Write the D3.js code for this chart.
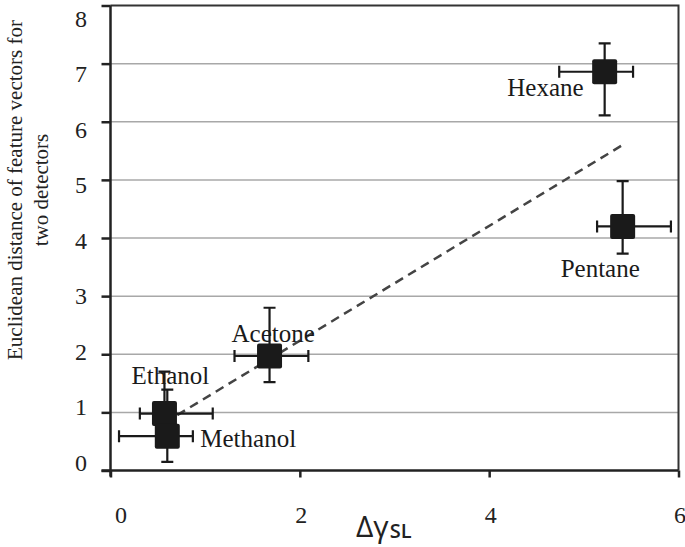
<!DOCTYPE html>
<html>
<head>
<meta charset="utf-8">
<script src="https://cdn.jsdelivr.net/npm/d3@7"></script>
<style>
  html, body { margin: 0; padding: 0; background: #fff; }
  svg { display: block; }
  .serif, .serif text { font-family: "Liberation Serif", "Times New Roman", "DejaVu Serif", serif; }
  .sans { font-family: "Open Sans", "DejaVu Sans", sans-serif; }
</style>
</head>
<body>
<svg id="chart" width="685" height="547"></svg>
<script>
// ---- data ----
const solvents = ["Hexane", "Pentane", "Acetone", "Ethanol", "Methanol"];
const deltaGamma = [5.22, 5.41, 1.68, 0.57, 0.60];       // x values
const distance   = [6.86, 4.20, 1.97, 0.98, 0.59];       // y values
const xLow  = [4.74, 5.14, 1.31, 0.31, 0.09];
const xHigh = [5.52, 5.92, 2.09, 1.08, 0.87];
const yLow  = [6.11, 3.73, 1.52, 0.60, 0.15];
const yHigh = [7.35, 4.98, 2.80, 1.70, 1.39];
const xTicks = [0, 2, 4, 6];
const yTicks = [0, 1, 2, 3, 4, 5, 6, 7, 8];
const yTitleLines = ["Euclidean distance of feature vectors for", "two detectors"];

// ---- label placement (style) ----
const labelStyle = {
  Hexane:   { dx: -21, dy: 24, anchor: "end" },
  Pentane:  { dx: -62, dy: 51, anchor: "start" },
  Acetone:  { dx: -38, dy: -14, anchor: "start" },
  Ethanol:  { dx: -33, dy: -30, anchor: "start" },
  Methanol: { dx: 33,  dy: 11, anchor: "start" }
};

const svg = d3.select("#chart");
const x = d3.scaleLinear().domain([0, 6]).range([110.5, 678.5]);
const y = d3.scaleLinear().domain([0, 8]).range([470.5, 5.5]);
const yLabel = d3.scaleLinear().domain([0, 8]).range([462, 18]);

// gridlines
svg.append("g").selectAll("line").data(yTicks.filter(t => t > 0 && t < 8)).join("line")
  .attr("x1", x(0)).attr("x2", x(6))
  .attr("y1", d => y(d)).attr("y2", d => y(d))
  .attr("stroke", "#a8a8a8").attr("stroke-width", 1.5);

// frame top & right
svg.append("path")
  .attr("d", `M${x(0)},${y(8)}H${x(6)}V${y(0)}`)
  .attr("fill", "none").attr("stroke", "#333").attr("stroke-width", 2);

// trend line (least-squares fit)
const n = deltaGamma.length;
const mx = d3.mean(deltaGamma), my = d3.mean(distance);
let sxy = 0, sxx = 0;
for (let i = 0; i < n; i++) { sxy += (deltaGamma[i]-mx)*(distance[i]-my); sxx += (deltaGamma[i]-mx)**2; }
const slope = sxy / sxx, icpt = my - slope * mx;
const [xmin, xmax] = d3.extent(deltaGamma);
svg.append("line")
  .attr("x1", x(xmin)).attr("y1", y(icpt + slope * xmin))
  .attr("x2", x(xmax)).attr("y2", y(icpt + slope * xmax))
  .attr("stroke", "#444").attr("stroke-width", 2.5)
  .attr("stroke-dasharray", "9,6");

// axes
const yAxis = svg.append("g").attr("transform", `translate(${x(0)},0)`)
  .call(d3.axisLeft(y).tickValues(yTicks).tickSize(9).tickFormat(d3.format("d")));
const xAxis = svg.append("g").attr("transform", `translate(0,${y(0)})`)
  .call(d3.axisBottom(x).tickValues(xTicks).tickSize(7).tickFormat(d3.format("d")));
[yAxis, xAxis].forEach(g => {
  g.attr("font-family", null).attr("class", "serif");
  g.select(".domain").attr("stroke", "#222").attr("stroke-width", 2.5);
  g.selectAll(".tick line").attr("stroke", "#222").attr("stroke-width", 2.5);
  g.selectAll("text").attr("font-size", 24).attr("fill", "#222");
});
yAxis.select(".domain").attr("d", `M0,${y(8)}V${y(0) + 6}`);
xAxis.select(".domain").attr("d", `M${x(0) - 9},0H${x(6)}`);
yAxis.selectAll(".tick text")
  .attr("x", -23.5).attr("dy", null)
  .attr("y", d => yLabel(d) - y(d)).attr("dominant-baseline", "central");
xAxis.selectAll(".tick text")
  .attr("y", 52).attr("dy", null)
  .attr("x", d => d === 0 ? 10 : 1);

// error bars
const cap = 6;
const eb = svg.append("g").attr("stroke", "#1a1a1a").attr("stroke-width", 2.2).attr("fill", "none");
solvents.forEach((s, i) => {
  const cx = x(deltaGamma[i]), cy = y(distance[i]);
  eb.append("path").attr("d",
    `M${x(xLow[i])},${cy}H${x(xHigh[i])}` +
    `M${x(xLow[i])},${cy - cap}V${cy + cap}M${x(xHigh[i])},${cy - cap}V${cy + cap}` +
    `M${cx},${y(yLow[i])}V${y(yHigh[i])}` +
    `M${cx - cap},${y(yLow[i])}H${cx + cap}M${cx - cap},${y(yHigh[i])}H${cx + cap}`);
});

// markers
const size = 25;
svg.append("g").selectAll("rect").data(solvents).join("rect")
  .attr("x", (d, i) => x(deltaGamma[i]) - size / 2)
  .attr("y", (d, i) => y(distance[i]) - size / 2)
  .attr("width", size).attr("height", size).attr("rx", 2)
  .attr("fill", "#1a1a1a");

// point labels
svg.append("g").attr("class", "serif").selectAll("text").data(solvents).join("text")
  .attr("x", (d, i) => x(deltaGamma[i]) + labelStyle[d].dx)
  .attr("y", (d, i) => y(distance[i]) + labelStyle[d].dy)
  .attr("text-anchor", d => labelStyle[d].anchor)
  .attr("font-size", 25).attr("fill", "#1a1a1a")
  .text(d => d);

// y title
const yt = svg.append("text").attr("class", "serif")
  .attr("transform", "translate(0,190) rotate(-90)")
  .attr("text-anchor", "middle")
  .attr("font-size", 21).attr("fill", "#222");
yTitleLines.forEach((l, i) => yt.append("tspan").attr("x", 0).attr("y", 21.5 + i * 26.5).text(l));

// x title
const xt = svg.append("text").attr("class", "sans")
  .attr("x", 356).attr("y", 537)
  .attr("font-size", 30).attr("fill", "#222");
xt.append("tspan").text("Δγ");
xt.append("tspan").attr("font-size", 20).attr("font-weight", 600).attr("dy", 1).attr("dx", 1).text("SL");
</script>
</body>
</html>
